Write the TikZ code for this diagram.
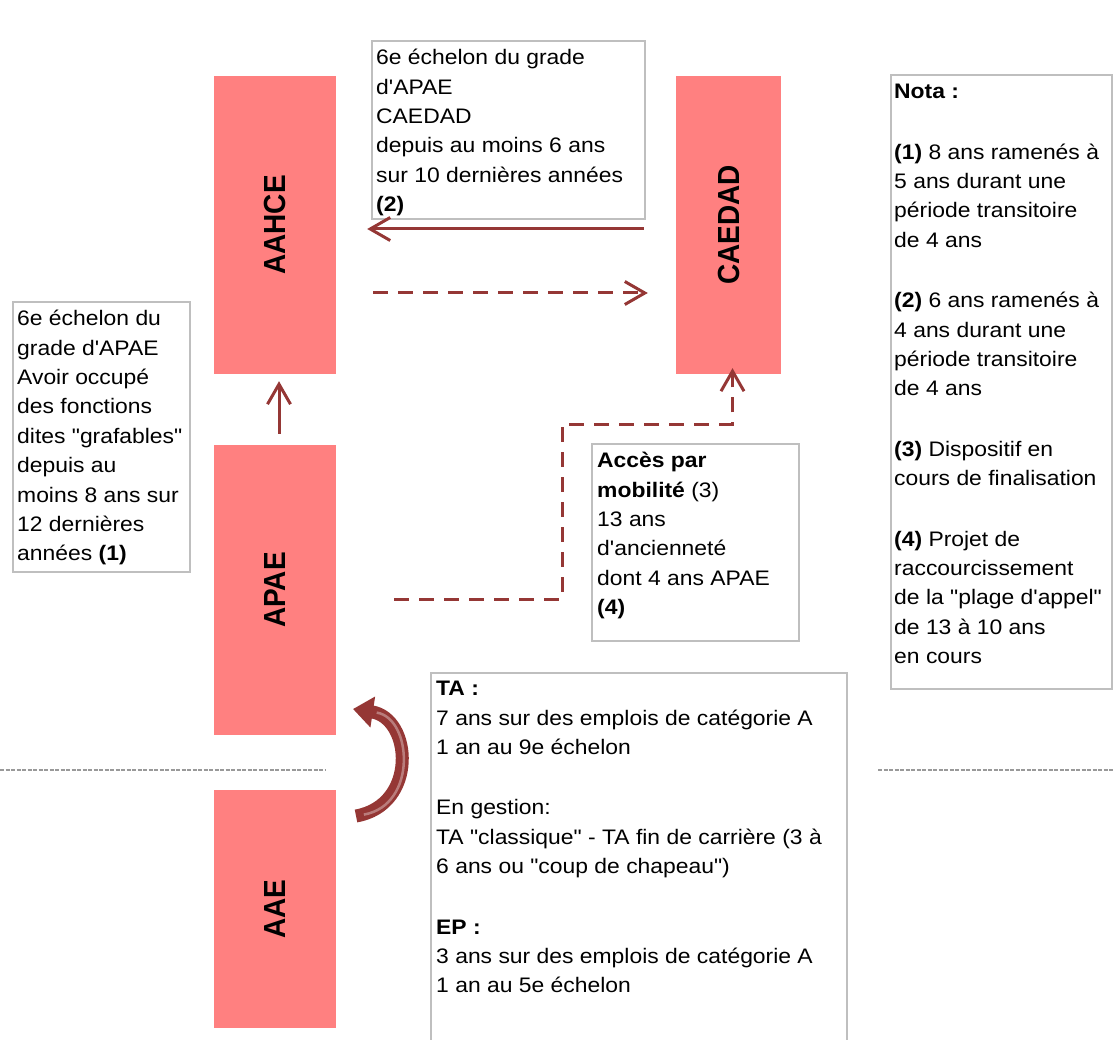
\documentclass[tikz,border=0pt]{standalone}
\usepackage{fontspec}
\usetikzlibrary{arrows.meta,calc,positioning}
\newfontfamily\notefont[FakeStretch=1.09]{Liberation Sans}
\newfontfamily\gradefont{Liberation Sans}
\definecolor{gradepink}{HTML}{FF8080}
\definecolor{flowred}{HTML}{953735}
\definecolor{boxgray}{HTML}{BFBFBF}
\newcommand{\gradename}[1]{\scalebox{1}[1.09]{\gradefont\bfseries\fontsize{28}{34}\selectfont #1}}

\begin{document}
\begin{tikzpicture}[x=1pt,y=-1pt,
  grade/.style={fill=gradepink, draw=none, minimum width=122pt, inner sep=0pt},
  notebox/.style={draw=boxgray, line width=2pt, anchor=north west, inner sep=0pt},
  notetext/.style={anchor=north west, align=left, inner sep=0pt, font=\notefont\fontsize{21}{29.4}\selectfont},
  flow/.style={draw=flowred, line width=3pt, -{Straight Barb[length=20pt,width=23pt]}},
  dashflow/.style={flow, dash pattern=on 15pt off 10pt},
  turnarrow/.style={draw=flowred, line width=13pt, -{Triangle[length=20pt,width=30pt]}},
  divider/.style={draw=gray!80, line width=1.2pt, dash pattern=on 4pt off 1.5pt}]
\useasboundingbox (0,0) rectangle (1113,1040);

% grades
\node[grade, minimum height=298pt, label={[rotate=90]center:\gradename{AAHCE}}] (aahce) at (275,225) {};
\node[grade, minimum width=105pt, minimum height=298pt, label={[rotate=90]center:\gradename{CAEDAD}}] (caedad) at (728.5,225) {};
\node[grade, minimum height=290pt, label={[rotate=90]center:\gradename{APAE}}] (apae) at (275,590) {};
\node[grade, minimum height=238pt, label={[rotate=90]center:\gradename{AAE}}] (aae) at (275,909) {};

% conditions
\node[notebox, minimum width=273pt, minimum height=178pt] (cond2box) at (371,40) {};
\node[notetext, below right=4pt and 5pt of cond2box.north west] (cond2) {\strut 6e échelon du grade\\
d'APAE\\
CAEDAD\\
depuis au moins 6 ans\\
sur 10 dernières années\\
\textbf{(2)}};

\node[notebox, minimum width=177pt, minimum height=270pt] (cond1box) at (12,301) {};
\node[notetext, below right=4pt and 5pt of cond1box.north west] (cond1) {\strut 6e échelon du\\
grade d'APAE\\
Avoir occupé\\
des fonctions\\
dites "grafables"\\
depuis au\\
moins 8 ans sur\\
12 dernières\\
années \textbf{(1)}};

\node[notebox, minimum width=207pt, minimum height=197pt] (mobbox) at (591,443) {};
\node[notetext, below right=4pt and 6pt of mobbox.north west] (mob) {\strut\textbf{Accès par}\\
\textbf{mobilité} (3)\\
13 ans\\
d'ancienneté\\
dont 4 ans APAE\\
\textbf{(4)}};

\node[notebox, minimum width=221pt, minimum height=614pt] (notabox) at (890,74) {};
\node[notetext, below right=4pt and 4pt of notabox.north west] (nota) {\strut\textbf{Nota :}\\[31pt]
\textbf{(1)} 8 ans ramenés à\\
5 ans durant une\\
période transitoire\\
de 4 ans\\[31pt]
\textbf{(2)} 6 ans ramenés à\\
4 ans durant une\\
période transitoire\\
de 4 ans\\[31pt]
\textbf{(3)} Dispositif en\\
cours de finalisation\\[31pt]
\textbf{(4)} Projet de\\
raccourcissement\\
de la "plage d'appel"\\
de 13 à 10 ans\\
en cours};

\node[notebox, minimum width=416pt, minimum height=372pt] (tabox) at (430,672) {};
\node[notetext, below right=3pt and 6pt of tabox.north west] (ta) {\strut\textbf{TA :}\\
7 ans sur des emplois de catégorie A\\
1 an au 9e échelon\\[31pt]
En gestion:\\
TA "classique" - TA fin de carrière (3 à\\
6 ans ou "coup de chapeau")\\[31pt]
\textbf{EP :}\\
3 ans sur des emplois de catégorie A\\
1 an au 5e échelon};

% passages
\draw[flow, shorten <=32pt, shorten >=31pt] ([yshift=-4pt]caedad.west) -- ([yshift=-4pt]aahce.east);
\draw[dashflow, shorten <=37pt, shorten >=28pt] ([yshift=-68pt]aahce.east) -- ([yshift=-68pt]caedad.west);
\draw[flow, shorten <=11pt, shorten >=7pt] ([xshift=4pt]apae.north) -- ([xshift=4pt]aahce.south);
\draw[dashflow, shorten >=-6pt] ([shift={(58pt,-9pt)}]apae.east) -| (562,424) -| ([xshift=4pt]caedad.south);

% TA / EP
\coordinate (turn-start) at (356,816);
\coordinate (turn-end) at (353,709);
\draw[turnarrow] (turn-start) .. controls (418,805) and (412,718) .. (turn-end);
\draw[white, opacity=0.35, line width=2.5pt, shorten <=8pt, shorten >=24pt] (turn-start) .. controls (418,805) and (412,718) .. (turn-end);

% separation A / B
\coordinate (rule-l1) at (0,770);
\coordinate (rule-l2) at (325,770);
\coordinate (rule-r1) at (878,770);
\coordinate (rule-r2) at (1113,770);
\draw[divider] (rule-l1) -- (rule-l2);
\draw[divider] (rule-r1) -- (rule-r2);
\end{tikzpicture}
\end{document}
